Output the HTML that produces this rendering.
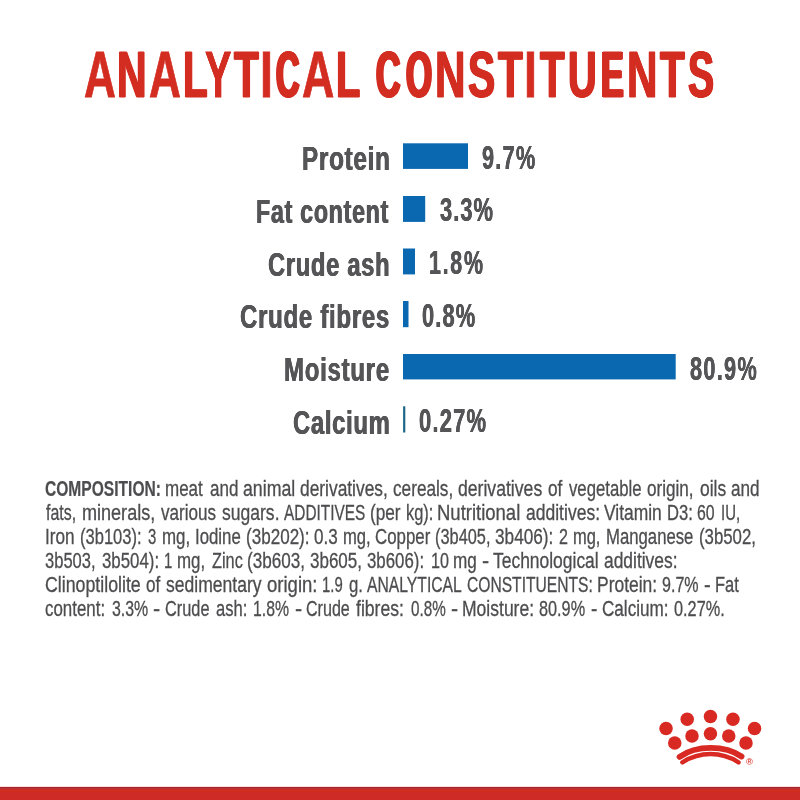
<!DOCTYPE html>
<html lang="en">
<head>
<meta charset="utf-8">
<title>Analytical Constituents</title>
<style>
html,body{margin:0;padding:0;background:#fff;}
body{width:800px;height:800px;position:relative;overflow:hidden;font-family:"Liberation Sans",Arial,sans-serif;}
.t{position:absolute;white-space:nowrap;transform-origin:0 0;margin:0;}
.title{position:absolute;left:0;margin:0;font-size:0;line-height:0;white-space:nowrap;color:#d32d22;font-weight:700;-webkit-text-stroke:0.8px currentColor;}
.title span{display:inline-block;font-size:64.5px;line-height:77px;transform-origin:0 0;}
.chart{margin:0;padding:0;list-style:none;}
.label,.value{color:#555557;font-weight:700;}
.label{font-size:33.8px;line-height:41px;letter-spacing:1.0px;}
.value{font-size:32.4px;line-height:39px;}
.bars{position:absolute;left:0;top:0;}
.para{margin:0;color:#4d4d4f;font-weight:400;-webkit-text-stroke:0.3px currentColor;}
.pline{position:absolute;left:0;font-size:0;line-height:0;white-space:nowrap;}
.pline span{display:inline-block;font-size:21.3px;line-height:26px;transform-origin:0 0;}
.pline b{font-weight:700;-webkit-text-stroke:0.2px currentColor;}
.footer{position:absolute;left:0;top:786px;width:800px;height:14px;background:linear-gradient(to bottom,#ffdcdc 0,#ffdcdc 1px,#a2282f 1px,#a2282f 2px,#be3234 2px,#be3234 3px,#c82a28 3px,#c82a28 4px,#d4301e 4px,#d4301e 5px,#d02c1c 5px,#d02c1c 6px,#cf2b26 6px,#cf2b26 14px);}
.crown{position:absolute;left:650px;top:700px;width:120px;height:80px;}
</style>
</head>
<body>
<h1 class="title" style="top:37.00px;padding-left:83.84px"><span style="width:33.38px;transform:scaleX(0.6842)">A</span><span style="width:31.62px;transform:scaleX(0.6341);text-shadow:1.101px 0 0 currentColor,-1.101px 0 0 currentColor">N</span><span style="width:34.20px;transform:scaleX(0.6842)">A</span><span style="width:21.58px;transform:scaleX(0.6264);text-shadow:1.177px 0 0 currentColor,-1.177px 0 0 currentColor">L</span><span style="width:29.05px;transform:scaleX(0.6124);text-shadow:0.160px 0 0 currentColor,-0.160px 0 0 currentColor">Y</span><span style="width:26.60px;transform:scaleX(0.6292);text-shadow:1.149px 0 0 currentColor,-1.149px 0 0 currentColor">T</span><span style="width:16.23px;transform:scaleX(0.7229)">I</span><span style="width:25.68px;transform:scaleX(0.5042);text-shadow:2.686px 0 0 currentColor,-2.686px 0 0 currentColor,1.343px 0 0 currentColor,-1.343px 0 0 currentColor">C</span><span style="width:34.30px;transform:scaleX(0.6933)">A</span><span style="width:39.63px;transform:scaleX(0.6159);text-shadow:1.283px 0 0 currentColor,-1.283px 0 0 currentColor">L</span> <span style="width:29.63px;transform:scaleX(0.5240);text-shadow:2.394px 0 0 currentColor,-2.394px 0 0 currentColor,1.197px 0 0 currentColor,-1.197px 0 0 currentColor">C</span><span style="width:29.38px;transform:scaleX(0.5198);text-shadow:2.453px 0 0 currentColor,-2.453px 0 0 currentColor,1.227px 0 0 currentColor,-1.227px 0 0 currentColor">O</span><span style="width:33.12px;transform:scaleX(0.6567);text-shadow:0.889px 0 0 currentColor,-0.889px 0 0 currentColor">N</span><span style="width:29.60px;transform:scaleX(0.6311);text-shadow:1.131px 0 0 currentColor,-1.131px 0 0 currentColor">S</span><span style="width:26.44px;transform:scaleX(0.6275);text-shadow:1.166px 0 0 currentColor,-1.166px 0 0 currentColor">T</span><span style="width:15.33px;transform:scaleX(0.7229)">I</span><span style="width:28.08px;transform:scaleX(0.6240);text-shadow:1.201px 0 0 currentColor,-1.201px 0 0 currentColor">T</span><span style="width:33.00px;transform:scaleX(0.6166);text-shadow:1.276px 0 0 currentColor,-1.276px 0 0 currentColor">U</span><span style="width:26.36px;transform:scaleX(0.5278);text-shadow:2.341px 0 0 currentColor,-2.341px 0 0 currentColor,1.170px 0 0 currentColor,-1.170px 0 0 currentColor">E</span><span style="width:33.30px;transform:scaleX(0.6550);text-shadow:0.905px 0 0 currentColor,-0.905px 0 0 currentColor">N</span><span style="width:28.07px;transform:scaleX(0.6275);text-shadow:1.166px 0 0 currentColor,-1.166px 0 0 currentColor">T</span><span style="width:40.00px;transform:scaleX(0.6054);text-shadow:1.393px 0 0 currentColor,-1.393px 0 0 currentColor,0.696px 0 0 currentColor,-0.696px 0 0 currentColor">S</span></h1>
<ul class="chart">
<li><span class="t label" style="left:301.61px;top:137.90px;transform:scaleX(0.7177);text-shadow:0.488px 0 0 currentColor,-0.488px 0 0 currentColor">Protein</span> <span class="t value" style="left:482.00px;top:138.50px;letter-spacing:1.828px;transform:scaleX(0.6711);text-shadow:0.298px 0 0 currentColor,-0.298px 0 0 currentColor">9.7%</span></li>
<li><span class="t label" style="left:255.98px;top:190.60px;transform:scaleX(0.6889);text-shadow:0.508px 0 0 currentColor,-0.508px 0 0 currentColor">Fat content</span> <span class="t value" style="left:439.51px;top:191.30px;letter-spacing:1.561px;transform:scaleX(0.6753);text-shadow:0.296px 0 0 currentColor,-0.296px 0 0 currentColor">3.3%</span></li>
<li><span class="t label" style="left:267.75px;top:243.50px;transform:scaleX(0.7017);text-shadow:0.499px 0 0 currentColor,-0.499px 0 0 currentColor">Crude ash</span> <span class="t value" style="left:428.61px;top:244.30px;letter-spacing:2.668px;transform:scaleX(0.6590);text-shadow:0.303px 0 0 currentColor,-0.303px 0 0 currentColor">1.8%</span></li>
<li><span class="t label" style="left:239.74px;top:296.00px;transform:scaleX(0.7105);text-shadow:0.493px 0 0 currentColor,-0.493px 0 0 currentColor">Crude fibres</span> <span class="t value" style="left:422.47px;top:296.70px;letter-spacing:1.688px;transform:scaleX(0.6737);text-shadow:0.297px 0 0 currentColor,-0.297px 0 0 currentColor">0.8%</span></li>
<li><span class="t label" style="left:283.73px;top:348.60px;transform:scaleX(0.7113);text-shadow:0.492px 0 0 currentColor,-0.492px 0 0 currentColor">Moisture</span> <span class="t value" style="left:690.49px;top:349.50px;letter-spacing:1.877px;transform:scaleX(0.6721);text-shadow:0.298px 0 0 currentColor,-0.298px 0 0 currentColor">80.9%</span></li>
<li><span class="t label" style="left:292.55px;top:401.60px;transform:scaleX(0.7044);text-shadow:0.497px 0 0 currentColor,-0.497px 0 0 currentColor">Calcium</span> <span class="t value" style="left:418.95px;top:401.90px;letter-spacing:1.760px;transform:scaleX(0.6775);text-shadow:0.295px 0 0 currentColor,-0.295px 0 0 currentColor">0.27%</span></li>
</ul>
<svg class="bars" width="800" height="800" viewBox="0 0 800 800"><rect x="403" y="143.3" width="65.00" height="25.60" fill="#0a68b0"/><rect x="403" y="196.0" width="22.20" height="25.90" fill="#0a68b0"/><rect x="403" y="248.5" width="12.00" height="25.90" fill="#0a68b0"/><rect x="403" y="301.0" width="5.50" height="26.20" fill="#0a68b0"/><rect x="403" y="354.0" width="272.70" height="25.40" fill="#0a68b0"/><rect x="403.1" y="406.3" width="2.20" height="26.20" fill="#1b6688"/></svg>
<p class="para">
<span class="pline" style="top:475.60px;padding-left:45.46px"><span style="width:119.77px;transform:scaleX(0.7313)"><b>COMPOSITION:</b></span> <span style="width:44.76px;transform:scaleX(0.7981)">meat</span> <span style="width:33.12px;transform:scaleX(0.7988)">and</span> <span style="width:56.88px;transform:scaleX(0.8334)">animal</span> <span style="width:93.13px;transform:scaleX(0.8151)">derivatives,</span> <span style="width:65.01px;transform:scaleX(0.8072)">cereals,</span> <span style="width:89.99px;transform:scaleX(0.8270)">derivatives</span> <span style="width:20.64px;transform:scaleX(0.8062)">of</span> <span style="width:78.12px;transform:scaleX(0.7852)">vegetable</span> <span style="width:53.09px;transform:scaleX(0.8035)">origin,</span> <span style="width:31.31px;transform:scaleX(0.8191)">oils</span> <span style="width:200.00px;transform:scaleX(0.8048)">and</span></span>
<span class="pline" style="top:499.60px;padding-left:45.87px"><span style="width:36.14px;transform:scaleX(0.7468)">fats,</span> <span style="width:78.60px;transform:scaleX(0.8475)">minerals,</span> <span style="width:61.40px;transform:scaleX(0.8013)">various</span> <span style="width:61.75px;transform:scaleX(0.8233)">sugars.</span> <span style="width:85.81px;transform:scaleX(0.7225)">ADDITIVES</span> <span style="width:36.33px;transform:scaleX(0.8073)">(per</span> <span style="width:31.52px;transform:scaleX(0.7718)">kg):</span> <span style="width:88.18px;transform:scaleX(0.8684)">Nutritional</span> <span style="width:78.15px;transform:scaleX(0.8225)">additives:</span> <span style="width:63.15px;transform:scaleX(0.8182)">Vitamin</span> <span style="width:29.86px;transform:scaleX(0.7812)">D3:</span> <span style="width:24.30px;transform:scaleX(0.7446)">60</span> <span style="width:200.00px;transform:scaleX(0.7000)">IU,</span></span>
<span class="pline" style="top:523.60px;padding-left:44.54px"><span style="width:35.74px;transform:scaleX(0.8054)">Iron</span> <span style="width:67.75px;transform:scaleX(0.7768)">(3b103):</span> <span style="width:14.06px;transform:scaleX(0.7000)">3</span> <span style="width:32.73px;transform:scaleX(0.7926)">mg,</span> <span style="width:51.08px;transform:scaleX(0.7891)">Iodine</span> <span style="width:68.62px;transform:scaleX(0.8010)">(3b202):</span> <span style="width:28.48px;transform:scaleX(0.8003)">0.3</span> <span style="width:32.48px;transform:scaleX(0.7787)">mg,</span> <span style="width:59.80px;transform:scaleX(0.7911)">Copper</span> <span style="width:60.28px;transform:scaleX(0.7678)">(3b405,</span> <span style="width:63.73px;transform:scaleX(0.8080)">3b406):</span> <span style="width:13.46px;transform:scaleX(0.7556)">2</span> <span style="width:32.95px;transform:scaleX(0.7725)">mg,</span> <span style="width:93.90px;transform:scaleX(0.7855)">Manganese</span> <span style="width:200.00px;transform:scaleX(0.7888)">(3b502,</span></span>
<span class="pline" style="top:547.60px;padding-left:45.14px"><span style="width:57.29px;transform:scaleX(0.7760)">3b503,</span> <span style="width:61.69px;transform:scaleX(0.7901)">3b504):</span> <span style="width:12.96px;transform:scaleX(0.7000)">1</span> <span style="width:34.47px;transform:scaleX(0.7926)">mg,</span> <span style="width:35.53px;transform:scaleX(0.7648)">Zinc</span> <span style="width:62.83px;transform:scaleX(0.8040)">(3b603,</span> <span style="width:57.51px;transform:scaleX(0.7984)">3b605,</span> <span style="width:63.40px;transform:scaleX(0.7901)">3b606):</span> <span style="width:22.53px;transform:scaleX(0.7574)">10</span> <span style="width:28.95px;transform:scaleX(0.8046)">mg</span> <span style="width:11.18px;transform:scaleX(1.0075)">-</span> <span style="width:110.27px;transform:scaleX(0.8189)">Technological</span> <span style="width:200.00px;transform:scaleX(0.8174)">additives:</span></span>
<span class="pline" style="top:571.60px;padding-left:44.99px"><span style="width:101.29px;transform:scaleX(0.8333)">Clinoptilolite</span> <span style="width:20.14px;transform:scaleX(0.8033)">of</span> <span style="width:101.01px;transform:scaleX(0.8231)">sedimentary</span> <span style="width:54.22px;transform:scaleX(0.8699)">origin:</span> <span style="width:27.77px;transform:scaleX(0.7000)">1.9</span> <span style="width:18.10px;transform:scaleX(0.7882)">g.</span> <span style="width:99.87px;transform:scaleX(0.7371)">ANALYTICAL</span> <span style="width:130.12px;transform:scaleX(0.7331)">CONSTITUENTS:</span> <span style="width:64.91px;transform:scaleX(0.8196)">Protein:</span> <span style="width:42.15px;transform:scaleX(0.7540)">9.7%</span> <span style="width:10.51px;transform:scaleX(0.9451)">-</span> <span style="width:200.00px;transform:scaleX(0.7726)">Fat</span></span>
<span class="pline" style="top:595.60px;padding-left:45.18px"><span style="width:66.68px;transform:scaleX(0.7932)">content:</span> <span style="width:41.10px;transform:scaleX(0.7467)">3.3%</span> <span style="width:11.89px;transform:scaleX(1.0075)">-</span> <span style="width:50.80px;transform:scaleX(0.7666)">Crude</span> <span style="width:37.05px;transform:scaleX(0.7786)">ash:</span> <span style="width:42.12px;transform:scaleX(0.7417)">1.8%</span> <span style="width:11.35px;transform:scaleX(1.0075)">-</span> <span style="width:49.94px;transform:scaleX(0.7550)">Crude</span> <span style="width:54.72px;transform:scaleX(0.8268)">fibres:</span> <span style="width:40.31px;transform:scaleX(0.7162)">0.8%</span> <span style="width:10.73px;transform:scaleX(0.9986)">-</span> <span style="width:77.53px;transform:scaleX(0.8230)">Moisture:</span> <span style="width:51.82px;transform:scaleX(0.7637)">80.9%</span> <span style="width:10.51px;transform:scaleX(0.8916)">-</span> <span style="width:71.92px;transform:scaleX(0.8035)">Calcium:</span> <span style="width:200.00px;transform:scaleX(0.7649)">0.27%.</span></span>
</p>
<svg class="crown" viewBox="650 700 120 80"><g fill="#d82a22"><circle cx="666.05" cy="728.5" r="6.75"/><circle cx="687.2" cy="719.2" r="6.75"/><circle cx="710.45" cy="716.5" r="6.75"/><circle cx="732.95" cy="719.2" r="6.75"/><circle cx="754.55" cy="728.5" r="6.75"/><circle cx="674.75" cy="743.05" r="6.75"/><circle cx="692" cy="736" r="6.75"/><circle cx="710.45" cy="733.75" r="6.75"/><circle cx="728.75" cy="736" r="6.75"/><circle cx="746" cy="743.05" r="6.75"/></g><path d="M679.6 756.8 C696.31 744.98 724.79 744.98 741.5 756.5" fill="none" stroke="#d82a22" stroke-width="5.9" stroke-linecap="round"/><path d="M682.4 762.4 C699.79 751.35 721.11 751.35 738.5 762.3" fill="none" stroke="#d82a22" stroke-width="4.5" stroke-linecap="round"/><circle cx="749.5" cy="761.1" r="3.0" fill="#fdeceb"/><text x="749.5" y="764.5" font-family="Liberation Sans, Arial, sans-serif" font-size="9.4" text-anchor="middle" fill="#d82a22">&#174;</text></svg>
<div class="footer"></div>
</body>
</html>
